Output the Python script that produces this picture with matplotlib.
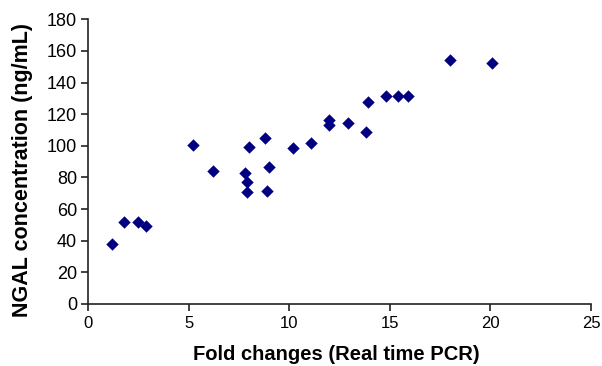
import matplotlib
matplotlib.use('Agg')
import matplotlib.pyplot as plt

plt.rcParams['font.family'] = ['Liberation Sans', 'DejaVu Sans']

# values
fold_change = [1.2, 1.8, 2.5, 2.9, 5.2, 6.2, 7.8, 7.9, 7.9, 8.0, 8.8, 9.0, 8.9,
               10.2, 11.1, 12.0, 12.0, 12.9, 13.8, 13.9, 14.8, 15.4, 15.9, 18.0, 20.1]
ngal = [38, 52, 52, 49.5, 100.5, 84, 83, 77, 70.5, 99.5, 105, 86.5, 71.5,
        98.5, 101.5, 116, 113, 114.5, 108.5, 128, 131.5, 131.5, 131.5, 154, 152.5]

fig = plt.figure(figsize=(6.02, 3.66), dpi=100)
ax = fig.add_axes([0.1462, 0.1694, 0.8355, 0.778])

ax.scatter(fold_change, ngal, marker='D', s=40, color='#000080', linewidths=0, zorder=3)

ax.set_xlim(0, 25)
ax.set_ylim(0, 180)
ax.set_xticks(range(0, 26, 5))
ax.set_yticks(range(0, 181, 20))

for side in ['top', 'right']:
    ax.spines[side].set_visible(False)
for side in ['left', 'bottom']:
    ax.spines[side].set_linewidth(1.2)
    ax.spines[side].set_color('#222222')

ax.tick_params(direction='out', length=5, width=1.2, color='#222222')
ax.tick_params(axis='x', labelsize=12, pad=4)
ax.tick_params(axis='y', labelsize=13, pad=3)

ax.set_xlabel('Fold changes (Real time PCR)', fontsize=14.5, fontweight='bold', va='center')
ax.set_ylabel('NGAL concentration (ng/mL)', fontsize=15.5, fontweight='bold', va='center')
ax.xaxis.set_label_coords(0.494, -0.179)
ax.yaxis.set_label_coords(-0.131, 0.47)

fig.savefig('out.png', dpi=100)
